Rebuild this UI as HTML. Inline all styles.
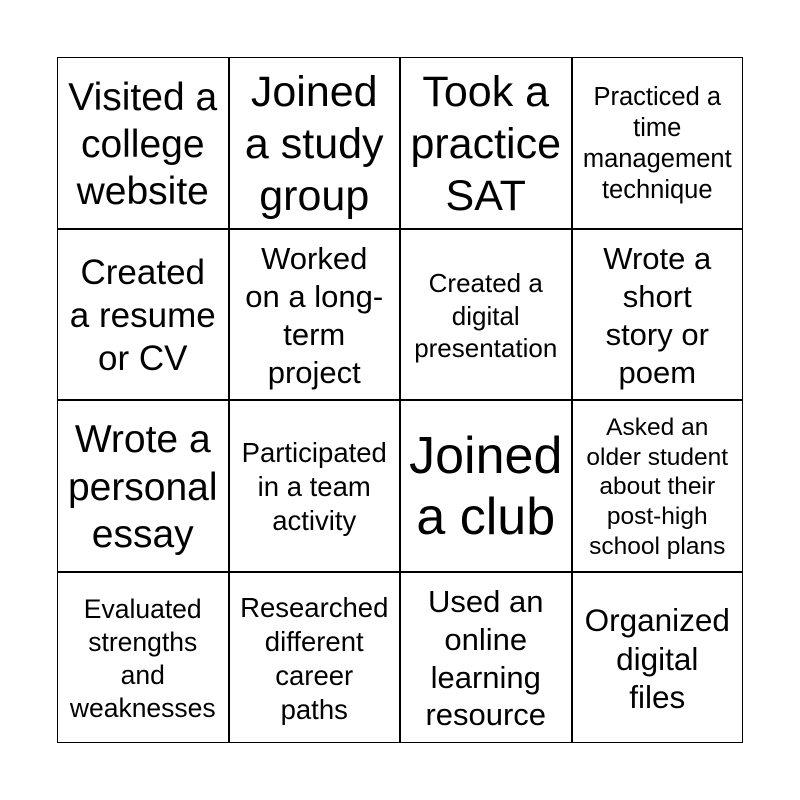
<!DOCTYPE html>
<html><head><meta charset="utf-8"><style>
html,body{margin:0;padding:0;background:#fff;width:800px;height:800px;overflow:hidden}
#g{position:absolute;left:57px;top:57px;width:686px;height:686px;border:1.5px solid #000;box-sizing:border-box}
.h,.v{position:absolute;background:#000}
.h{left:57px;width:686px;height:2px}
.v{top:57px;height:686px;width:2px}
.c{position:absolute;width:171.5px;height:171.5px;box-sizing:border-box;padding-top:3px;display:flex;align-items:center;justify-content:center;text-align:center;font-family:"Liberation Sans",Arial,sans-serif;color:#000;white-space:nowrap}
</style></head><body>
<div id="g"></div>
<div class="h" style="top:228px"></div><div class="h" style="top:399px"></div><div class="h" style="top:571px"></div>
<div class="v" style="left:228px"></div><div class="v" style="left:399px"></div><div class="v" style="left:571px"></div>

<div class="c" style="left:57px;top:57px;font-size:39px;line-height:47px">Visited a<br>college<br>website</div>
<div class="c" style="left:228.5px;top:57px;font-size:43px;line-height:52px">Joined<br>a study<br>group</div>
<div class="c" style="left:400px;top:57px;font-size:43px;line-height:52px">Took a<br>practice<br>SAT</div>
<div class="c" style="left:571.5px;top:57px;font-size:25.5px;line-height:31px">Practiced a<br>time<br>management<br>technique</div>

<div class="c" style="left:57px;top:228.5px;font-size:35px;line-height:43px">Created<br>a resume<br>or CV</div>
<div class="c" style="left:228.5px;top:228.5px;font-size:31px;line-height:38px">Worked<br>on a long-<br>term<br>project</div>
<div class="c" style="left:400px;top:228.5px;font-size:26px;line-height:32.5px">Created a<br>digital<br>presentation</div>
<div class="c" style="left:571.5px;top:228.5px;font-size:31px;line-height:38px">Wrote a<br>short<br>story or<br>poem</div>

<div class="c" style="left:57px;top:400px;font-size:39px;line-height:47.5px">Wrote a<br>personal<br>essay</div>
<div class="c" style="left:228.5px;top:400px;font-size:27.5px;line-height:34px">Participated<br>in a team<br>activity</div>
<div class="c" style="left:400px;top:400px;font-size:52px;line-height:61px">Joined<br>a club</div>
<div class="c" style="left:571.5px;top:400px;font-size:24.5px;line-height:29.8px">Asked an<br>older student<br>about their<br>post-high<br>school plans</div>

<div class="c" style="left:57px;top:571.5px;font-size:26.5px;line-height:33px">Evaluated<br>strengths<br>and<br>weaknesses</div>
<div class="c" style="left:228.5px;top:571.5px;font-size:27.5px;line-height:34px">Researched<br>different<br>career<br>paths</div>
<div class="c" style="left:400px;top:571.5px;font-size:31px;line-height:37.7px">Used an<br>online<br>learning<br>resource</div>
<div class="c" style="left:571.5px;top:571.5px;font-size:31.5px;line-height:38.5px">Organized<br>digital<br>files</div>
</body></html>
